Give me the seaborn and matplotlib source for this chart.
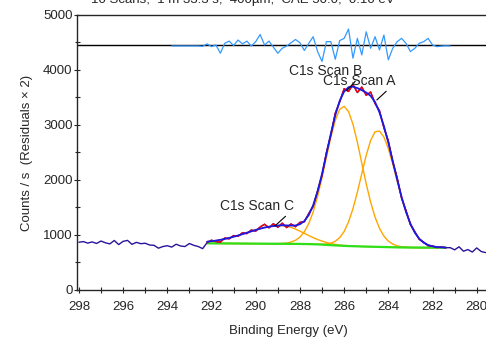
import numpy as np
import pandas as pd
import matplotlib
matplotlib.use('Agg')
import matplotlib.pyplot as plt
from matplotlib.ticker import MultipleLocator
import seaborn as sns

# ---- valores ----
titulo = '10 Scans,  1 m 33.3 s,  400µm,  CAE 50.0,  0.10 eV'

# espectro completo, 298.0 -> 279.6 eV (passo 0.2 eV)
espectro_be = np.round(np.linspace(298.0, 279.6, 93), 1)
espectro_cps = [
    868, 880, 852, 874, 846, 890, 858, 838, 900, 826,
    884, 902, 830, 866, 842, 850, 818, 812, 760, 790,
    805, 780, 832, 800, 790, 845, 812, 790, 752,
    # regiao do ajuste 292.2 -> 281.4
    862, 905, 880, 870, 945, 930, 990, 975, 1040, 1025,
    1090, 1070, 1145, 1195, 1130, 1205, 1140, 1215, 1135, 1200,
    1150, 1230, 1240, 1390, 1520, 1800, 2085, 2500, 2820, 3215,
    3420, 3660, 3610, 3735, 3590, 3690, 3540, 3600, 3390, 3260,
    2950, 2710, 2330, 2040, 1670, 1445, 1190, 1060, 920, 870,
    805, 800, 772, 780, 768,
    # 281.2 -> 279.6
    770, 730, 785, 705, 735, 690, 765, 700, 680,
]

# regiao do ajuste, 292.2 -> 281.4 eV (passo 0.2 eV)
ajuste_be = np.round(np.linspace(292.2, 281.4, 55), 1)
fundo = [
    848, 848, 847, 847, 846, 846, 845, 845, 844, 844,
    843, 843, 842, 842, 841, 841, 840, 840, 839, 839,
    838, 837, 836, 834, 832, 829, 825, 820, 815, 811,
    806, 802, 799, 796, 794, 791, 789, 787, 785, 783,
    781, 779, 777, 775, 774, 773, 772, 771, 771, 770,
    770, 770, 770, 770, 770,
]
pico_a = [
    0, 0, 0, 0, 0, 0, 0, 0, 0, 0,
    0, 0, 0, 0, 0, 0, 0, 0, 0, 0,
    0, 0, 0, 0, 1, 3, 7, 16, 36, 75,
    145, 261, 438, 681, 985, 1326, 1660, 1932, 2092, 2107,
    2001, 1792, 1513, 1205, 905, 642, 430, 270, 161, 90,
    48, 24, 11, 5, 2,
]
pico_b = [
    0, 0, 0, 0, 0, 0, 0, 0, 0, 0,
    0, 0, 0, 0, 0, 1, 3, 7, 15, 33,
    66, 125, 223, 373, 588, 871, 1214, 1593, 1962, 2273,
    2477, 2538, 2446, 2218, 1891, 1516, 1141, 810, 540, 339,
    199, 110, 58, 28, 13, 6, 2, 1, 0, 0,
    0, 0, 0, 0, 0,
]
pico_c = [
    30, 40, 51, 65, 82, 101, 123, 146, 171, 197,
    223, 249, 272, 293, 309, 321, 328, 330, 320, 299,
    269, 233, 194, 156, 120, 89, 64, 44, 29, 18,
    11, 7, 4, 2, 1, 0, 0, 0, 0, 0,
    0, 0, 0, 0, 0, 0, 0, 0, 0, 0,
    0, 0, 0, 0, 0,
]

# residuos (x2), 293.8 -> 281.2 eV, desvio em torno da linha zero
resid_be = np.round(np.linspace(293.8, 281.2, 64), 1)
residuos = [
    -18, -18, -18, -18, -18, -18, -18, -25, 20, -30,
    0, -150, 30, 70, -10, 90, 20, 70, -20, 60,
    190, 0, 70, -40, -150, -60, -20, 40, 100, 40,
    -100, 30, 150, -120, -300, 60, 60, -260, 80, 120,
    290, -240, 120, -180, 240, -60, 150, -90, 180, -270,
    -60, 60, 120, 30, -120, -60, 30, 60, 120, 0,
    -30, -20, -15, -18,
]
resid_zero = 4455


def montar_ajuste():
    """
    Junta fundo e componentes num DataFrame e calcula o envelope.
    """
    df = pd.DataFrame({'be': ajuste_be, 'fundo': fundo,
                       'A': pico_a, 'B': pico_b, 'C': pico_c})
    df['envelope'] = df['fundo'] + df['A'] + df['B'] + df['C']
    return df


def plotar():
    sns.set_style('white')
    plt.rcParams['font.family'] = ['Liberation Sans', 'DejaVu Sans']

    df = montar_ajuste()
    esp = pd.DataFrame({'be': espectro_be, 'cps': espectro_cps})
    reg = esp[(esp['be'] <= 292.2) & (esp['be'] >= 281.4)]
    res = pd.DataFrame({'be': resid_be,
                        'y': resid_zero + np.array(residuos)})

    fig = plt.figure(figsize=(4.86, 3.4), dpi=100)
    ax = fig.add_axes([0.1578, 0.1471, 0.8422, 0.8088])

    # componentes sobre o fundo
    for nome in ['C', 'B', 'A']:
        sns.lineplot(x=df['be'], y=df['fundo'] + df[nome], ax=ax,
                     color='#ffa500', linewidth=1.0, estimator=None)
    sns.lineplot(data=df, x='be', y='fundo', ax=ax, color='#2ee01a',
                 linewidth=1.6, estimator=None)
    sns.lineplot(data=esp, x='be', y='cps', ax=ax, color='#2a139c',
                 linewidth=1.0, estimator=None)
    sns.lineplot(data=reg, x='be', y='cps', ax=ax, color='#ff0000',
                 linewidth=1.0, estimator=None)
    sns.lineplot(data=df, x='be', y='envelope', ax=ax, color='#1a1ae6',
                 linewidth=1.3, estimator=None)

    # residuos
    ax.axhline(resid_zero - 8, color='0.6', lw=0.8, ls=(0, (1, 1)))
    ax.axhline(resid_zero, color='black', lw=1.0)
    sns.lineplot(data=res, x='be', y='y', ax=ax, color='#3399ff',
                 linewidth=0.9, estimator=None)

    seta = dict(arrowstyle='-', color='black', lw=0.8,
                shrinkA=0, shrinkB=0)
    ax.annotate('C1s Scan B', xy=(285.88, 3625), xytext=(286.82, 3982),
                ha='center', va='center', fontsize=10,
                arrowprops=dict(seta, relpos=(1.0, 0.35)))
    ax.annotate('C1s Scan A', xy=(284.52, 3455), xytext=(285.30, 3800),
                ha='center', va='center', fontsize=10,
                arrowprops=dict(seta, relpos=(1.0, 0.4)))
    ax.annotate('C1s Scan C', xy=(289.13, 1164), xytext=(289.92, 1527),
                ha='center', va='center', fontsize=10,
                arrowprops=dict(seta, relpos=(1.0, 0.35)))

    ax.set_xlim(298.1, 279.58)
    ax.set_ylim(0, 5000)
    ax.xaxis.set_major_locator(MultipleLocator(2))
    ax.xaxis.set_minor_locator(MultipleLocator(1))
    ax.yaxis.set_major_locator(MultipleLocator(1000))
    ax.yaxis.set_minor_locator(MultipleLocator(500))
    ax.tick_params(axis='x', which='both', direction='inout', length=4.5,
                   width=0.8, pad=6, labelsize=9.5, bottom=True)
    ax.tick_params(axis='y', which='major', direction='inout', length=5,
                   width=0.8, pad=0.5, labelsize=9.5, left=True)
    ax.tick_params(axis='y', which='minor', direction='inout', length=3.6,
                   width=0.8, left=True)

    for lado in ['left', 'bottom', 'top']:
        ax.spines[lado].set_color('0.15')
        ax.spines[lado].set_linewidth(1.0)
    ax.spines['right'].set_visible(False)

    ax.set_xlabel('Binding Energy (eV)', fontsize=9.5)
    ax.set_ylabel('Counts / s  (Residuals × 2)', fontsize=9.5)
    ax.xaxis.set_label_coords(0.517, -0.127)
    ax.yaxis.set_label_coords(-0.106, 0.5)

    fig.text(0.5, 0.99, titulo, ha='center', va='baseline', fontsize=9.5)

    fig.savefig('out.png', dpi=100)


plotar()
